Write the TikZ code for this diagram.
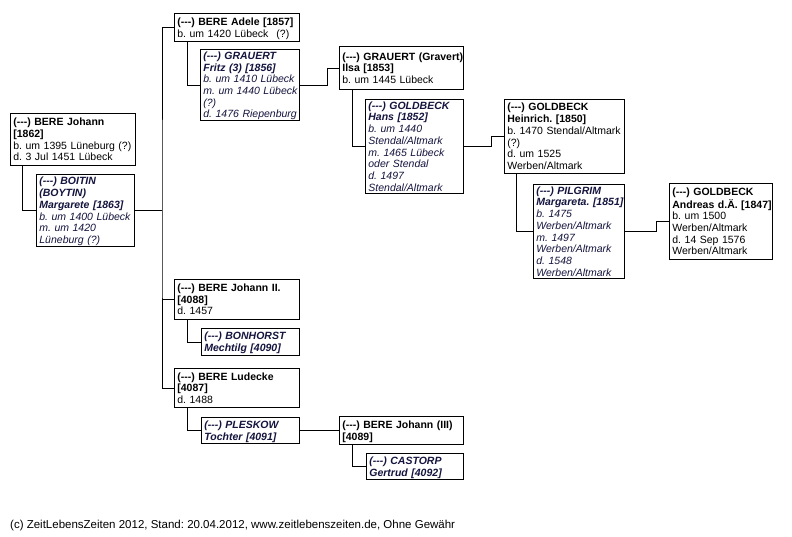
\documentclass[tikz,border=0pt]{standalone}
\usepackage{fontspec}
\newfontfamily\boxf{Liberation Sans}
\definecolor{spouse}{RGB}{20,20,62}
\newcommand\bx[1]{\raisebox{-1.5pt}[\height][\depth]{\begin{tabular}{@{}l@{}}#1\end{tabular}}}
\begin{document}
\frenchspacing
\begin{tikzpicture}[x=1pt,y=-1pt]
\tikzset{
  pbox/.style={draw, line width=0.8pt, anchor=north west, inner xsep=3pt, inner ysep=0pt,
    align=left, font=\boxf\frenchspacing\fontsize{10.5}{11.7}\selectfont},
  sbox/.style={pbox, text=spouse},
  conn/.style={draw, line width=0.8pt}
}
\fill[white] (0,0) rectangle (792,536);
\useasboundingbox (0,0) rectangle (792,536);

% nodes
\node[pbox, minimum width=125pt, minimum height=52pt, text width=119pt] (jo) at (10,113)
 {\bx{\textbf{(---) BERE Johann}\\\textbf{[1862]}\\b. um 1395 Lüneburg (?)\\d. 3 Jul 1451 Lübeck}};
\node[sbox, minimum width=98pt, minimum height=72pt, text width=92pt] (boitin) at (36,174)
 {\bx{\textbf{\textit{(---) BOITIN}}\\\textbf{\textit{(BOYTIN)}}\\\textbf{\textit{Margarete [1863]}}\\\textit{b. um 1400 Lübeck}\\\textit{m. um 1420}\\\textit{Lüneburg (?)}}};
\node[pbox, minimum width=125pt, minimum height=28pt, text width=119pt] (adele) at (174,13)
 {\bx{\textbf{(---) BERE Adele [1857]}\\b. um 1420 Lübeck\hspace{8pt}(?)}};
\node[sbox, minimum width=99pt, minimum height=71pt, text width=93pt] (fritz) at (200,49)
 {\bx{\textbf{\textit{(---) GRAUERT}}\\\textbf{\textit{Fritz (3) [1856]}}\\\textit{b. um 1410 Lübeck}\\\textit{m. um 1440 Lübeck}\\\textit{(?)}\\\textit{d. 1476 Riepenburg}}};
\node[pbox, minimum width=124pt, minimum height=43pt, text width=118pt] (ilsa) at (339,46)
 {\bx{\textbf{(---) GRAUERT (Gravert)}\\\textbf{Ilsa [1853]}\\b. um 1445 Lübeck}};
\node[sbox, minimum width=98pt, minimum height=94pt, text width=92pt] (hans) at (365,99)
 {\bx{\textbf{\textit{(---) GOLDBECK}}\\\textbf{\textit{Hans [1852]}}\\\textit{b. um 1440}\\\textit{Stendal/Altmark}\\\textit{m. 1465 Lübeck}\\\textit{oder Stendal}\\\textit{d. 1497}\\\textit{Stendal/Altmark}}};
\node[pbox, minimum width=120pt, minimum height=74pt, text width=114pt] (heinrich) at (504,99)
 {\bx{\textbf{(---) GOLDBECK}\\\textbf{Heinrich. [1850]}\\b. 1470 Stendal/Altmark\\(?)\\d. um 1525\\Werben/Altmark}};
\node[sbox, minimum width=91pt, minimum height=94pt, text width=85pt] (pilgrim) at (533,184)
 {\bx{\textbf{\textit{(---) PILGRIM}}\\\textbf{\textit{Margareta. [1851]}}\\\textit{b. 1475}\\\textit{Werben/Altmark}\\\textit{m. 1497}\\\textit{Werben/Altmark}\\\textit{d. 1548}\\\textit{Werben/Altmark}}};
\node[pbox, minimum width=103pt, minimum height=76pt, text width=97pt] (andreas) at (669,183)
 {\bx{\textbf{(---) GOLDBECK}\\\textbf{Andreas d.Ä. [1847]}\\b. um 1500\\Werben/Altmark\\d. 14 Sep 1576\\Werben/Altmark}};
\node[pbox, minimum width=125pt, minimum height=40pt, text width=119pt] (jo2) at (174,279)
 {\bx{\textbf{(---) BERE Johann II.}\\\textbf{[4088]}\\d. 1457}};
\node[sbox, minimum width=98pt, minimum height=27pt, text width=92pt] (bonhorst) at (201,328)
 {\bx{\textbf{\textit{(---) BONHORST}}\\\textbf{\textit{Mechtilg [4090]}}}};
\node[pbox, minimum width=125pt, minimum height=39pt, text width=119pt] (ludecke) at (174,368)
 {\bx{\textbf{(---) BERE Ludecke}\\\textbf{[4087]}\\d. 1488}};
\node[sbox, minimum width=98pt, minimum height=26pt, text width=92pt] (pleskow) at (201,417)
 {\bx{\textbf{\textit{(---) PLESKOW}}\\\textbf{\textit{Tochter [4091]}}}};
\node[pbox, minimum width=124pt, minimum height=28pt, text width=118pt] (jo3) at (339,416)
 {\bx{\textbf{(---) BERE Johann (III)}\\\textbf{[4089]}}};
\node[sbox, minimum width=97pt, minimum height=26pt, text width=91pt] (castorp) at (366,453)
 {\bx{\textbf{\textit{(---) CASTORP}}\\\textbf{\textit{Gertrud [4092]}}}};

\node[anchor=base west, inner sep=0pt, font=\boxf\frenchspacing\fontsize{11.5}{13}\selectfont] (footer) at (10,528)
 {(c) ZeitLebensZeiten 2012, Stand: 20.04.2012, www.zeitlebenszeiten.de, Ohne Gewähr};

% connectors
\coordinate (trunk) at (162,210);
\draw[conn] ([xshift=12pt]jo.south west) |- (boitin.west);
\draw[conn] (boitin.east) -- (boitin.east -| trunk);
\draw[conn] (adele.west) -| (trunk) |- (ludecke.west);
\draw[conn] (jo2.west) -- (jo2.west -| trunk);
\draw[conn] ([xshift=13pt]adele.south west) |- (fritz.west);
\draw[conn] (fritz.east) -- ++(28,0) |- (ilsa.west);
\draw[conn] ([xshift=13pt]ilsa.south west) |- (hans.west);
\draw[conn] (hans.east) -- ++(28,0) |- (heinrich.west);
\draw[conn] ([xshift=12pt]heinrich.south west) |- (pilgrim.west);
\draw[conn] (pilgrim.east) -- ++(32,0) |- (andreas.west);
\draw[conn] ([xshift=13pt]jo2.south west) |- (bonhorst.west);
\draw[conn] ([xshift=13pt]ludecke.south west) |- (pleskow.west);
\draw[conn] (pleskow.east) -- ++(28,0) |- (jo3.west);
\draw[conn] ([xshift=13pt]jo3.south west) |- (castorp.west);
\end{tikzpicture}
\end{document}
